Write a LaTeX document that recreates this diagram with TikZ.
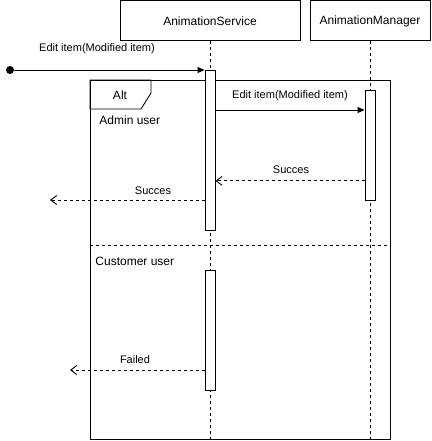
\documentclass[tikz,border=0pt]{standalone}
\usepackage{fontspec}
\setmainfont{Liberation Sans}
\usetikzlibrary{arrows.meta}

\tikzset{
    lifebox/.style={draw, fill=white, inner sep=0, minimum height=40pt},
    activebar/.style={draw, fill=white, inner sep=0, minimum width=10pt, anchor=north},
    lifeline/.style={dash pattern=on 3pt off 3pt},
    callmsg/.style={-{Triangle[length=7pt,width=6pt]}},
    replymsg/.style={dash pattern=on 3pt off 3pt, -{Straight Barb[length=6pt,width=9pt]}},
    msglabel/.style={font=\fontsize{11}{13}\selectfont},
}

\begin{document}
\begin{tikzpicture}[x=1pt, y=-1pt, line width=.9pt, font=\fontsize{12}{14}\selectfont]
    \useasboundingbox (0, 0) rectangle (431, 441);
    % participants and lifelines
    \node[lifebox, minimum width=180pt, anchor=north] (service) at (210, .5) {AnimationService};
    \node[lifebox, minimum width=120pt, anchor=north] (manager) at (370, .5) {AnimationManager};
    \coordinate (serviceEnd) at (210, 441);
    \coordinate (managerEnd) at (370, 441);
    \draw [lifeline] (service.south) -- (serviceEnd);
    \draw [lifeline] (manager.south) -- (managerEnd);
    % alt frame
    \draw (90, 80) rectangle (390, 439);
    \draw (90, 80) -- (151, 80) -- (151, 93) -- (141, 109) -- (90, 109) -- cycle;
    \node (altText) at (120, 95) {Alt};
    \node [anchor=west, inner sep=0] (adminText) at (99, 120) {Admin user};
    \draw [dash pattern=on 3pt off 3pt] (90, 245) -- (391, 245);
    \node [anchor=west, inner sep=0] (customerText) at (95, 261) {Customer user};
    % activations
    \node[activebar, minimum height=160pt] (serviceAct) at (210, 70) {};
    \node[activebar, minimum height=110pt] (managerAct) at (370, 90) {};
    \node[activebar, minimum height=120pt] (serviceAct2) at (210, 270) {};
    % messages
    \node [circle, fill, inner sep=0, minimum size=8pt] (start) at (10, 70) {};
    \draw [callmsg] (start.center) -- (serviceAct.north west);
    \node [msglabel] (editText) at (97, 49) {Edit item(Modified item)};
    \coordinate (editCall) at ([yshift=-40pt]serviceAct.north east);
    \draw [callmsg] (editCall) -- (managerAct.west |- editCall);
    \node [msglabel] (editText2) at (290, 96) {Edit item(Modified item)};
    \coordinate (managerReply) at ([yshift=20pt]managerAct.south west);
    \draw [replymsg] (managerReply) -- (serviceAct.east |- managerReply);
    \node [msglabel] (succesText) at (291, 170) {Succes};
    \coordinate (adminOut) at (50, 200);
    \draw [replymsg] (serviceAct.west |- adminOut) -- (adminOut);
    \node [msglabel] (succesText2) at (153, 191) {Succes};
    \coordinate (customerOut) at (70, 370);
    \draw [replymsg] (serviceAct2.west |- customerOut) -- (customerOut);
    \node [msglabel] (failedText) at (135, 360) {Failed};
\end{tikzpicture}
\end{document}
